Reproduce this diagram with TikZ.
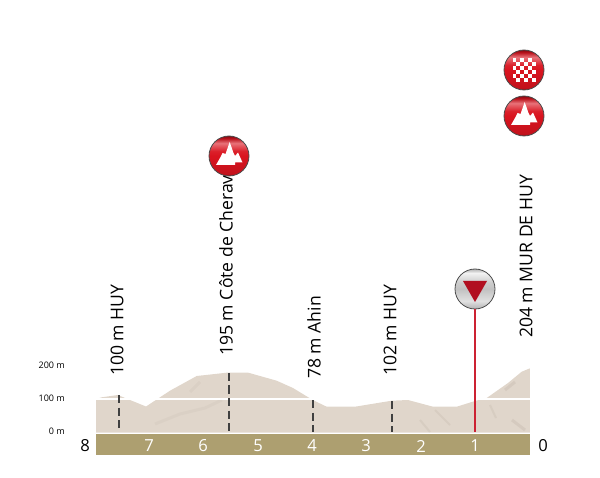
\documentclass[tikz,border=0pt]{standalone}
\usepackage{fontspec}
\setmainfont{Open Sans}
\usetikzlibrary{positioning}
\definecolor{profil}{HTML}{E0D6CB}
\definecolor{smudge}{HTML}{B5A99C}
\definecolor{band}{HTML}{AD9F70}
\definecolor{redline}{HTML}{CC2233}
\definecolor{cone}{HTML}{B10F20}
\definecolor{redmain}{HTML}{D9141F}
\pgfdeclareverticalshading{redball}{100bp}{color(0bp)=(redmain!70!black); color(25bp)=(redmain!70!black); color(28bp)=(redmain!90!black); color(50bp)=(redmain); color(56bp)=(redmain!95!white); color(66bp)=(redmain!60!white); color(72bp)=(redmain!85!black); color(75bp)=(redmain!60!black); color(100bp)=(redmain!60!black)}
\pgfdeclareverticalshading{greyball}{100bp}{color(0bp)=(black!30); color(25bp)=(black!30); color(35bp)=(black!12); color(50bp)=(black!24); color(58bp)=(black!20); color(70bp)=(black!5); color(75bp)=(black!30); color(100bp)=(black!30)}
\tikzset{
  ball/.style={circle,draw=black!70,line width=0.8pt,minimum size=40pt,inner sep=0pt},
  redbadge/.style={ball,shading=redball},
  greybadge/.style={ball,shading=greyball},
  climb/.style={redbadge,path picture={
      \fill[white,shift={(path picture bounding box.center)}]
        (-13,9) -- (-9,2) -- (-6.5,-3) -- (-3.5,-2) -- (0.7,-14) -- (4.5,-3) -- (6,0)
        -- (9,-3.5) -- (13.5,6.5) -- (6,6.5) -- (6,9) -- cycle;}},
  finish/.style={redbadge,path picture={
      \begin{scope}[shift={(path picture bounding box.center)}]
        \foreach \i in {0,...,5}
          \foreach \j in {0,...,5}{
            \pgfmathparse{int(mod(\i+\j,2))}
            \ifnum\pgfmathresult=0
              \fill[white] (-11.5+\i*3.85,-11.5+\j*3.85) rectangle ++(3.85,3.85);
            \fi}
      \end{scope}}},
  flamme/.style={greybadge,path picture={
      \fill[cone,shift={(path picture bounding box.center)}]
        (-12,-8) -- (12,-8) -- (0,13) -- cycle;}},
  climbname/.style={rotate=90,anchor=west,font=\fontsize{17.6}{18}\selectfont,inner sep=0pt},
  height/.style={anchor=east,font=\fontsize{9}{9}\selectfont,inner sep=0pt},
  km/.style={font=\fontsize{16.6}{17}\selectfont,inner sep=0pt},
  kmin/.style={km,text=white},
  marker/.style={dashed,dash pattern=on 8pt off 4.5pt,line width=2pt,black!75},
}
\begin{document}
\begin{tikzpicture}[x=1pt,y=-1pt]
    \useasboundingbox (0,0) rectangle (600,478);

    % profile
    \begin{scope}
      \clip (96,399) -- (101.7,397.3) -- (118,395) -- (125,398) -- (130,400)
        -- (146,406.5) -- (160,397.3) -- (170,390.7) -- (196.7,376) -- (226.7,372.7)
        -- (248.3,372.7) -- (276.7,380.7) -- (293,388) -- (312.7,400) -- (326.7,406.7)
        -- (355,406.7) -- (391.7,400.7) -- (408,400) -- (433,406.7) -- (456.7,406.7)
        -- (475,401) -- (486.7,398) -- (508,383) -- (521.7,371.7) -- (530,368.3)
        -- (530,432.5) -- (96,432.5) -- cycle;
      \fill[profil] (96,360) rectangle (530,433);
      \draw[smudge,opacity=0.12,line width=3pt] (155,424) -- (180,414) -- (205,408) -- (222,400);
      \draw[smudge,opacity=0.12,line width=3pt] (190,392) -- (200,382);
      \draw[smudge,opacity=0.2,line width=2pt] (435,410) -- (450,425);
      \draw[smudge,opacity=0.2,line width=2pt] (490,405) -- (496,418);
      \draw[smudge,opacity=0.25,line width=3pt] (505,390) -- (515,382);
      \draw[smudge,opacity=0.25,line width=3pt] (512,420) -- (525,430);
      \draw[smudge,opacity=0.2,line width=2pt] (420,420) -- (430,432);
    \end{scope}
    \draw[white,line width=1.6pt] (96,399) -- (530,399);

    % km band
    \fill[band] (96,434) rectangle (530,455);
    \node[km] (km8) at (85,446) {8};
    \node[km] (km0) at (543,446) {0};
    \foreach \k/\xk in {7/149,6/203,5/258,4/312,3/366,2/421,1/475}
      \node[kmin] (km\k) at (\xk,446) {\k};

    % height scale
    \node[height] (h200) at (65,365) {200 m};
    \node[height] (h100) at (65,398) {100 m};
    \node[height] (h0) at (65,431) {0 m};

    % climbs
    \coordinate (a1) at (118.5,395);
    \coordinate (a2) at (118.5,432);
    \coordinate (b1) at (229.3,373);
    \coordinate (b2) at (229.3,432);
    \coordinate (c1) at (312.7,400);
    \coordinate (c2) at (312.7,432);
    \coordinate (d1) at (392.3,401);
    \coordinate (d2) at (392.3,432);
    \coordinate (e2) at (475,432);
    \draw[marker] (a1) -- (a2);
    \draw[marker] (b1) -- (b2);
    \draw[marker] (c1) -- (c2);
    \draw[marker] (d1) -- (d2);

    \node[climbname] (huy1) at (117,376) {100 m HUY};
    \node[climbname] (cherav) at (226,356) {195 m Côte de Cherav};
    \node[climbname] (ahin) at (314,379) {78 m Ahin};
    \node[climbname] (huy2) at (390,376) {102 m HUY};
    \node[climbname] (mur) at (526,338) {204 m MUR DE HUY};

    \node[climb] (top1) at (229,156) {};
    \node[finish] (arrivee) at (524,70) {};
    \node[climb] (top2) at (524,116) {};
    \node[flamme] (flamme) at (475,289) {};
    \draw[redline,line width=1.6pt] (flamme) -- (e2);
  \end{tikzpicture}
\end{document}
